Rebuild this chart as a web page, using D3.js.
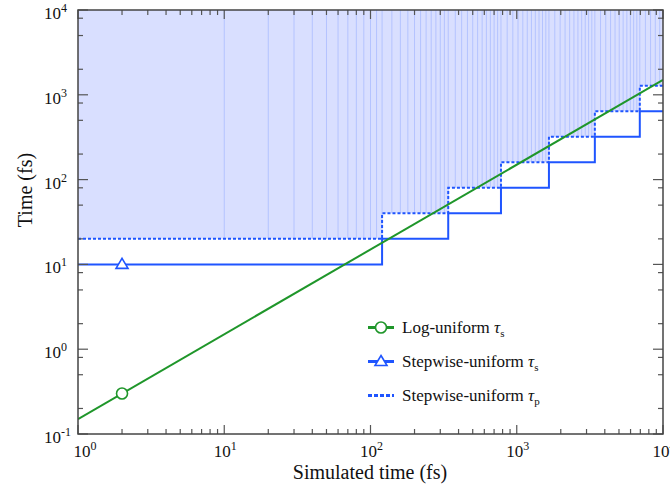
<!DOCTYPE html>
<html><head><meta charset="utf-8">
<script src="https://cdn.jsdelivr.net/npm/d3@7"></script>
<style>body{margin:0;background:#fff}svg{display:block}</style>
</head><body>
<svg id="c" width="670" height="491"></svg>
<script>
// ---- data ----
const segStart = [1, 120, 340, 780, 1660, 3420, 6940];
const segEnd   = [120, 340, 780, 1660, 3420, 6940, 10000];
const tauS     = [10, 20, 40, 80, 160, 320, 640];
const tauP     = [20, 40, 80, 160, 320, 640, 1280];
const logT     = [1, 10000];
const logTau   = [0.15, 1500];
const sampleTimes = [10,20,30,40,50,60,70,80,90,100,110,120,
  140,160,180,200,220,240,260,280,300,320,340,
  380,420,460,500,540,580,620,660,700,740,780,
  860,940,1020,1100,1180,1260,1340,1420,1500,1580,1660,
  1820,1980,2140,2300,2460,2620,2780,2940,3100,3260,3420,
  3740,4060,4380,4700,5020,5340,5660,5980,6300,6620,6940,
  7580,8220,8860,9500];
const markerLog = [2, 0.3];
const markerStep = [2, 10];
const xTickExp = [0, 1, 2, 3, 4];
const yTickExp = [-1, 0, 1, 2, 3, 4];
const legendLabels = ["Log-uniform τ", "Stepwise-uniform τ", "Stepwise-uniform τ"];
const legendSubs = ["s", "s", "p"];

// ---- layout ----
const L = 78, R = 663, T = 10, B = 434;
const FONT = "Liberation Serif, DejaVu Serif, serif";
const BLUE = "#1f55ff", GREEN = "#1f962a", FILL = "#d9dfff", VLINE = "#b4c3ff";

const svg = d3.select("#c");
const x = d3.scaleLog().domain([1, 1e4]).range([L, R]);
const y = d3.scaleLog().domain([0.1, 1e4]).range([B, T]);

svg.append("defs").append("clipPath").attr("id", "clip")
  .append("rect").attr("x", L).attr("y", T).attr("width", R - L).attr("height", B - T);
const g = svg.append("g").attr("clip-path", "url(#clip)");

const stepPts = (levels) => segStart.map((s, i) => [s, levels[i]]).concat([[segEnd[segEnd.length - 1], levels[levels.length - 1]]]);
const levelAt = (t, levels) => { for (let i = 0; i < segStart.length; i++) if (t <= segEnd[i]) return levels[i]; return levels[levels.length - 1]; };

// shaded area
const area = d3.area().curve(d3.curveStepAfter)
  .x(d => x(d[0])).y0(d => y(d[1])).y1(y(1e4));
g.append("path").datum(stepPts(tauP)).attr("d", area).attr("fill", FILL);

// vertical sample lines
g.selectAll("line.s").data(sampleTimes).join("line")
  .attr("x1", d => x(d)).attr("x2", d => x(d))
  .attr("y1", d => y(levelAt(d, tauP))).attr("y2", y(1e4))
  .attr("stroke", VLINE).attr("stroke-width", 1);

const line = d3.line().curve(d3.curveStepAfter).x(d => x(d[0])).y(d => y(d[1]));
g.append("path").datum(stepPts(tauS)).attr("d", line)
  .attr("fill", "none").attr("stroke", BLUE).attr("stroke-width", 2);
g.append("path").datum(stepPts(tauP)).attr("d", line)
  .attr("fill", "none").attr("stroke", BLUE).attr("stroke-width", 2).attr("stroke-dasharray", "3,2");

// log-uniform line
g.append("path").datum(logT.map((t, i) => [t, logTau[i]]))
  .attr("d", d3.line().x(d => x(d[0])).y(d => y(d[1])))
  .attr("fill", "none").attr("stroke", GREEN).attr("stroke-width", 2);

// markers
function tri(sel, cx, cy) {
  const h = 10, w = 12;
  sel.append("path").attr("d", `M${cx},${cy - h * 0.6}L${cx + w / 2},${cy + h * 0.4}L${cx - w / 2},${cy + h * 0.4}Z`)
    .attr("fill", "#fff").attr("stroke", BLUE).attr("stroke-width", 1.6);
}
svg.append("circle").attr("cx", x(markerLog[0])).attr("cy", y(markerLog[1])).attr("r", 5.5)
  .attr("fill", "#fff").attr("stroke", GREEN).attr("stroke-width", 1.6);
tri(svg, x(markerStep[0]), y(markerStep[1]));

// ticks (inward on all sides)
const tk = svg.append("g").attr("stroke", "#555").attr("stroke-width", 1.2);
const xMinor = [2, 3, 4, 5, 6, 7, 8, 9];
const yMinor = [2, 5, 8];
xTickExp.forEach(e => {
  const v = Math.pow(10, e);
  [[B, -1], [T, 1]].forEach(([yy, dir]) => {
    tk.append("line").attr("x1", x(v)).attr("x2", x(v)).attr("y1", yy).attr("y2", yy + dir * 9);
    if (e < 4) xMinor.forEach(m => {
      const xv = x(m * v);
      tk.append("line").attr("x1", xv).attr("x2", xv).attr("y1", yy).attr("y2", yy + dir * 5);
    });
  });
});
yTickExp.forEach(e => {
  const v = Math.pow(10, e);
  [[L, 1], [R, -1]].forEach(([xx, dir]) => {
    tk.append("line").attr("y1", y(v)).attr("y2", y(v)).attr("x1", xx).attr("x2", xx + dir * 10);
    if (e < 4) yMinor.forEach(m => {
      const yv = y(m * v);
      tk.append("line").attr("y1", yv).attr("y2", yv).attr("x1", xx).attr("x2", xx + dir * 5);
    });
  });
});

// frame
svg.append("rect").attr("x", L).attr("y", T).attr("width", R - L).attr("height", B - T)
  .attr("fill", "none").attr("stroke", "#444").attr("stroke-width", 1.5);

// tick labels
function powLabel(sel, exp) {
  sel.append("tspan").text("10");
  sel.append("tspan").attr("dy", -7).attr("font-size", 12).text(exp < 0 ? "-" + (-exp) : exp);
}
xTickExp.forEach(e => {
  const t = svg.append("text").attr("x", x(Math.pow(10, e)) + (e === 0 ? 7 : 1)).attr("y", 457)
    .attr("text-anchor", "middle").attr("font-family", FONT).attr("font-size", 17).attr("fill", "#111");
  powLabel(t, e);
});
yTickExp.forEach(e => {
  const t = svg.append("text").attr("x", 44).attr("y", y(Math.pow(10, e)) + 9)
    .attr("font-family", FONT).attr("font-size", 17).attr("fill", "#111");
  powLabel(t, e);
});

// axis titles
svg.append("text").attr("x", 370).attr("y", 479).attr("text-anchor", "middle")
  .attr("font-family", FONT).attr("font-size", 20).attr("fill", "#111").text("Simulated time (fs)");
svg.append("text").attr("transform", "translate(32,190) rotate(-90)").attr("text-anchor", "middle")
  .attr("font-family", FONT).attr("font-size", 20).attr("fill", "#111").text("Time (fs)");

// legend
const ly = [327.5, 361.5, 395.5];
const lx0 = 368, lx1 = 394, ltx = 402;
legendLabels.forEach((lab, i) => {
  const yy = ly[i];
  const ln = svg.append("line").attr("x1", lx0).attr("x2", lx1).attr("y1", yy).attr("y2", yy)
    .attr("stroke", i === 0 ? GREEN : BLUE).attr("stroke-width", 3);
  if (i === 2) ln.attr("stroke-dasharray", "4,2");
  if (i === 0) svg.append("circle").attr("cx", (lx0 + lx1) / 2).attr("cy", yy).attr("r", 5.5)
    .attr("fill", "#fff").attr("stroke", GREEN).attr("stroke-width", 1.6);
  if (i === 1) tri(svg, (lx0 + lx1) / 2, yy);
  const t = svg.append("text").attr("x", ltx).attr("y", yy + 5.5)
    .attr("font-family", FONT).attr("font-size", 17).attr("fill", "#111");
  t.append("tspan").text(lab.slice(0, -1));
  t.append("tspan").attr("font-style", "italic").text("τ");
  t.append("tspan").attr("dy", 4).attr("font-size", 11).text(legendSubs[i]);
});
</script>
</body></html>
